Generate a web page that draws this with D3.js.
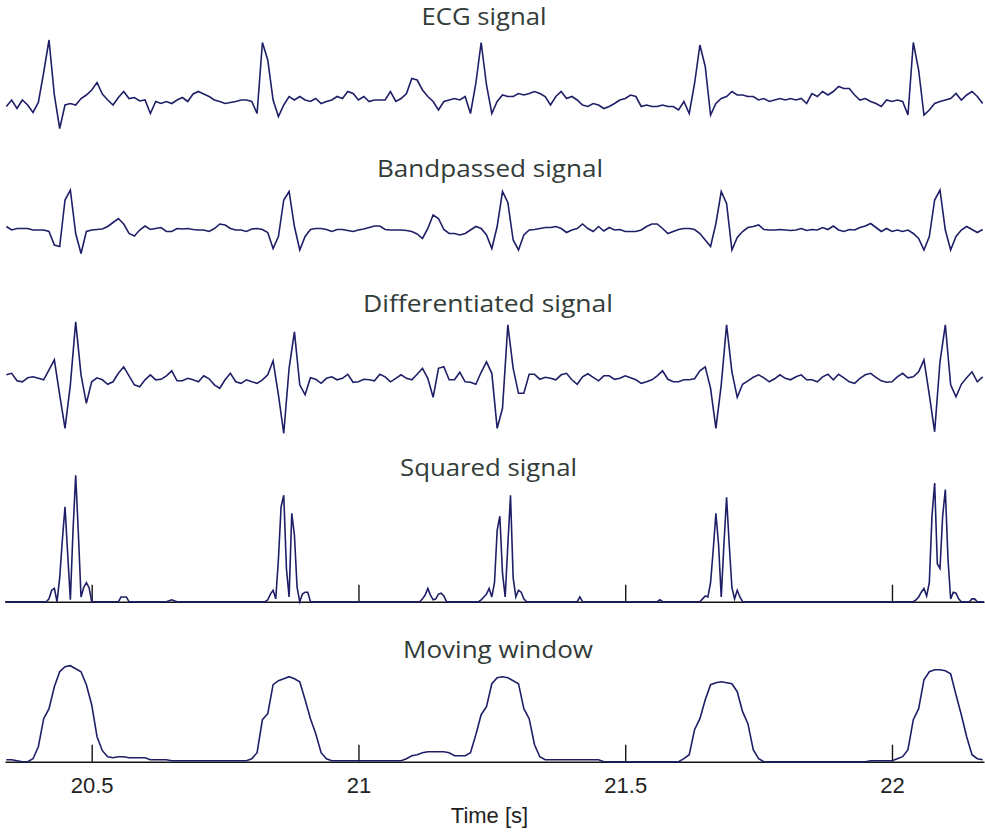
<!DOCTYPE html>
<html>
<head>
<meta charset="utf-8">
<script src="https://cdn.jsdelivr.net/npm/d3@7"></script>
<style>
  html, body { margin: 0; padding: 0; background: #ffffff; }
  svg { display: block; }
</style>
</head>
<body>
<svg id="chart" width="985" height="834"></svg>
<script>
// ---------------- DATA ----------------
// Uniformly sampled series: sample i is at time T0 + i*DT seconds
const T0 = 20.34;
const DT = 0.01;
const timeDomain = [20.3375, 22.1725];
const tickValues = [20.5, 21, 21.5, 22];
const xAxisLabel = "Time [s]";
const panelTitles = ["ECG signal", "Bandpassed signal", "Differentiated signal", "Squared signal", "Moving window"];

const ecgSignal = [
  -0.13,0,-0.17,0,-0.1,-0.25,-0.05,0.55,1.2,0.1,
  -0.57,-0.1,-0.07,-0.1,0.03,0.1,0.2,0.35,0.12,0,
  -0.1,0.05,0.17,0.03,0.05,-0.02,0,-0.27,-0.03,-0.07,
  -0.03,-0.07,0,0.05,-0.03,0.12,0.17,0.12,0.07,0,
  -0.03,-0.07,-0.05,-0.03,0,0,-0.03,-0.27,1.15,0.8,
  0,-0.33,-0.1,0.07,0,0.07,0,-0.03,0.03,-0.07,
  -0.03,0,0.07,0.03,0.17,0.13,0,0.07,-0.03,0,
  0,0,0.17,-0.03,0.03,0.13,0.43,0.4,0.2,0.07,
  -0.03,-0.2,-0.03,0,0.03,0,0.07,-0.27,0.33,1.15,
  0.3,-0.27,-0.03,0.1,0.07,0.07,0.13,0.1,0.13,0.17,
  0.13,0.07,-0.1,0.07,0.17,0.03,0.07,0,-0.1,-0.13,
  -0.07,-0.1,-0.17,-0.13,-0.07,0,0.03,0.1,0.07,-0.13,
  -0.1,-0.13,-0.13,-0.1,-0.13,-0.13,-0.2,-0.03,-0.27,0.33,
  1.1,0.67,-0.3,-0.07,0.03,0.07,0.17,0.1,0.1,0.07,
  0.07,0,0.03,-0.03,0,0.03,0,0.03,0,0.03,
  -0.07,0.13,0.07,0.17,0.1,0.17,0.27,0.23,0.23,0.1,
  0,0.03,-0.03,-0.07,-0.13,0,-0.03,0,-0.03,-0.3,
  1.15,0.6,-0.3,-0.2,-0.07,-0.03,0,0.03,0.13,0,
  0.1,0.17,0.07,-0.07
];

const bandpassedSignal = [
  0.07,0,0.03,0.03,0.03,0,0,0,-0.03,-0.3,
  -0.33,0.6,0.8,-0.07,-0.47,-0.03,0,0.01,0.02,0.07,
  0.15,0.23,0.12,-0.07,-0.12,0,0.08,0.01,0.03,0.05,
  -0.03,-0.03,0.03,0.02,0.03,0.01,0,0,-0.03,0.03,
  0.12,0.1,0.03,0,0,-0.03,0.02,0.03,0.01,-0.05,
  -0.37,-0.13,0.6,0.77,0.07,-0.4,-0.13,0.01,0.03,0.03,
  0.01,-0.03,0.01,0.01,-0.01,-0.03,0,0.02,0.05,0.08,
  0.08,0.01,0,0,0,-0.01,-0.03,-0.08,-0.17,0.03,
  0.3,0.23,0.01,-0.07,-0.07,-0.1,-0.07,0,0.07,0.03,
  -0.1,-0.37,0.07,0.77,0.55,-0.2,-0.4,-0.1,0,0.01,
  0.03,0.05,0.05,0.07,0.03,-0.05,0,0.03,0.12,0.03,
  -0.03,0.07,-0.02,0.05,0,0.01,-0.03,-0.03,-0.03,0,
  0.07,0.12,0.12,0.03,-0.07,-0.03,0.01,0.03,0.03,0.01,
  -0.07,-0.2,-0.33,0.13,0.77,0.53,-0.4,-0.15,-0.03,0.05,
  0.07,0.1,0.01,0,0,0.01,0,-0.01,0,0.03,
  -0.01,0.01,0,0.05,0.01,0.08,0,-0.03,0.01,0,
  0.05,0.08,0.13,0.05,-0.03,0.03,-0.03,0,-0.03,0,
  -0.07,-0.17,-0.4,-0.13,0.6,0.8,0,-0.4,-0.13,0,
  0.07,0.01,-0.05,0.01
];

const differentiatedSignal = [
  0.07,0.1,-0.05,-0.07,0.01,0.03,0,-0.03,0.17,0.37,
  -0.33,-1.0,-0.13,1.13,0.07,-0.5,-0.07,0.01,-0.03,-0.12,
  -0.07,0.1,0.23,0.05,-0.13,-0.17,-0.03,0.07,-0.03,-0.02,
  0.05,0.15,-0.05,-0.05,0,-0.03,-0.07,0.05,-0.01,-0.13,
  -0.2,-0.03,0.1,-0.07,-0.1,-0.03,-0.07,-0.1,-0.03,0.07,
  0.35,-0.33,-1.1,0.2,0.93,-0.13,-0.33,0.01,-0.02,-0.1,
  0,0.03,-0.03,0,0.08,-0.08,-0.07,-0.02,-0.03,-0.05,
  0.08,0.03,-0.07,0,0.07,0,-0.03,0.08,0.2,0,
  -0.38,0.2,0.23,-0.03,-0.03,0.12,-0.07,-0.08,-0.12,0.12,
  0.33,0.1,-1.0,-0.6,1.07,0.2,-0.3,-0.3,0.08,0.08,
  -0.02,0.02,0,-0.03,0.07,0.1,-0.03,-0.12,0.03,0.09,
  0.02,-0.05,0.05,0.05,-0.02,0,0.05,0.01,-0.03,-0.1,
  -0.07,-0.03,0.05,0.15,-0.02,-0.07,-0.07,-0.03,-0.03,-0.01,
  0.15,0.23,-0.2,-1.0,-0.13,1.07,0.13,-0.38,-0.12,-0.05,
  0.02,0.07,0.01,-0.07,-0.01,0.07,0,-0.03,0.03,0.07,
  -0.03,-0.03,-0.07,0.03,0.08,-0.03,0.08,0.01,-0.07,-0.1,
  0,0.07,0.1,0.02,-0.05,-0.08,-0.07,0.03,0.1,0.01,
  0.03,0.13,0.37,-0.33,-1.07,0.33,1.07,-0.13,-0.37,-0.12,
  0.01,0.13,-0.07,0.03
];

// Squared signal: [time (s), value] vertices
const squaredSignal = [
  [20.3375,0],[20.415,0],[20.42,0.03],[20.425,0.12],[20.43,0.14],[20.435,0],[20.44,0.25],[20.445,0.65],
  [20.45,1.0],[20.455,0.5],[20.46,0.02],[20.465,0.75],[20.47,1.33],[20.475,0.72],[20.48,0.05],[20.485,0.15],
  [20.49,0.2],[20.495,0.15],[20.5,0],
  [20.55,0],[20.555,0.05],[20.565,0.05],[20.57,0],
  [20.64,0],[20.65,0.02],[20.66,0],
  [20.825,0],[20.83,0.02],[20.835,0.08],[20.84,0.12],[20.845,0.03],[20.85,0.45],[20.855,1.0],[20.86,1.12],
  [20.865,0.35],[20.87,0.05],[20.875,0.93],[20.88,0.7],[20.885,0.15],[20.89,0],[20.895,0.08],[20.9,0.1],
  [20.905,0.1],[20.91,0],
  [21.115,0],[21.12,0.03],[21.125,0.07],[21.13,0.14],[21.135,0.07],[21.14,0.02],[21.145,0.03],[21.15,0.08],
  [21.155,0.09],[21.16,0.06],[21.165,0],
  [21.225,0],[21.23,0.02],[21.235,0.05],[21.24,0.08],[21.245,0.14],[21.25,0.05],[21.255,0.2],[21.26,0.75],
  [21.265,0.9],[21.27,0.3],[21.275,0.05],[21.28,0.6],[21.285,1.12],[21.29,0.25],[21.295,0.05],[21.3,0.12],
  [21.305,0.1],[21.31,0.03],[21.315,0],
  [21.41,0],[21.415,0.05],[21.42,0],
  [21.56,0],[21.565,0.02],[21.57,0],
  [21.64,0],[21.645,0.03],[21.65,0.06],[21.655,0.05],[21.66,0.2],[21.665,0.55],[21.67,0.93],[21.675,0.6],
  [21.68,0.05],[21.685,0.6],[21.69,1.1],[21.695,0.6],[21.7,0.15],[21.705,0.03],[21.71,0.12],[21.715,0.05],
  [21.72,0],
  [22.04,0],[22.045,0.02],[22.05,0.05],[22.055,0.1],[22.06,0.14],[22.065,0.06],[22.07,0.2],[22.075,0.9],
  [22.08,1.25],[22.085,0.4],[22.09,0.35],[22.095,0.9],[22.1,1.18],[22.105,0.45],[22.11,0.03],[22.115,0.1],
  [22.12,0.09],[22.125,0.03],[22.13,0],[22.145,0],[22.15,0.03],[22.155,0.03],[22.16,0],[22.1725,0]
];

const movingWindowSignal = [
  0.02,0.02,0.01,0,0,0.03,0.15,0.43,0.53,0.75,
  0.9,0.95,0.96,0.93,0.9,0.77,0.57,0.25,0.11,0.05,
  0.04,0.05,0.05,0.04,0.04,0.04,0.04,0.02,0.02,0.02,
  0.02,0.01,0.01,0.01,0.01,0.01,0.01,0.01,0.01,0.01,
  0.01,0.01,0.01,0.01,0.01,0.01,0.03,0.09,0.42,0.48,
  0.77,0.81,0.83,0.85,0.83,0.8,0.62,0.43,0.28,0.09,
  0.03,0.01,0.01,0.01,0.01,0.01,0.01,0.01,0.01,0.01,
  0.01,0.01,0.01,0.01,0.01,0.03,0.06,0.07,0.09,0.1,
  0.1,0.1,0.1,0.09,0.06,0.06,0.06,0.09,0.27,0.47,
  0.55,0.78,0.84,0.85,0.84,0.81,0.78,0.53,0.43,0.17,
  0.05,0.02,0.02,0.02,0.02,0.02,0.02,0.02,0.02,0.02,
  0.02,0.02,0,0,0,0,0,0,0,0,
  0,0,0,0,0,0,0,0.03,0.07,0.32,
  0.43,0.62,0.77,0.79,0.8,0.79,0.78,0.7,0.5,0.38,
  0.12,0.03,0,0,0,0,0,0,0,0,
  0,0,0,0,0,0,0,0,0,0,
  0,0,0.01,0.01,0.01,0.01,0.01,0.03,0.05,0.12,
  0.42,0.53,0.82,0.9,0.92,0.92,0.91,0.88,0.67,0.47,
  0.25,0.07,0.03,0.02
];

// ---------------- DRAWING ----------------
const W = 985, H = 834;
const svg = d3.select("#chart");
svg.append("rect").attr("width", W).attr("height", H).attr("fill", "#ffffff");

const x = d3.scaleLinear().domain(timeDomain).range([5, 984]);

const LINE_COLOR = "#1f1f68";
const TITLE_COLOR = "#323c38";

svg.append("defs").append("clipPath").attr("id", "plotclip")
  .append("rect").attr("x", 5).attr("y", 0).attr("width", 980).attr("height", H);

const panels = [
  { title: panelTitles[0], data: ecgSignal, y: d3.scaleLinear().domain([-0.8, 1.4]).range([140, 30]),
    tx: 484, ty: 25, tw: 125 },
  { title: panelTitles[1], data: bandpassedSignal, y: d3.scaleLinear().domain([-1, 1]).range([280, 180]),
    tx: 490, ty: 177, tw: 226 },
  { title: panelTitles[2], data: differentiatedSignal, y: d3.scaleLinear().domain([-1.4, 1.4]).range([448.3, 308.3]),
    tx: 488, ty: 312, tw: 250 },
  { title: panelTitles[3], data: squaredSignal, pairs: true, y: d3.scaleLinear().domain([0, 1.4]).range([601.7, 468.7]),
    tx: 488.5, ty: 476, tw: 177, axis: true, labels: false },
  { title: panelTitles[4], data: movingWindowSignal, y: d3.scaleLinear().domain([0, 1]).range([761.7, 661.7]),
    tx: 498, ty: 658, tw: 190, axis: true, labels: true }
];

panels.forEach(p => {
  const g = svg.append("g");

  // title
  g.append("text")
    .attr("x", p.tx).attr("y", p.ty)
    .attr("text-anchor", "middle")
    .attr("font-family", "'Open Sans', 'Noto Sans', sans-serif")
    .attr("font-size", 24)
    .attr("fill", TITLE_COLOR)
    .attr("textLength", p.tw)
    .attr("lengthAdjust", "spacingAndGlyphs")
    .text(p.title);

  // axis (only on the lower two panels)
  if (p.axis) {
    const base = p.y(0);
    const ax = d3.axisBottom(x)
      .tickValues(tickValues)
      .tickSizeInner(-17)
      .tickSizeOuter(0)
      .tickPadding(16)
      .tickFormat(p.labels ? d3.format("") : () => "");
    const ag = g.append("g").attr("transform", `translate(0,${base})`).call(ax);
    ag.select(".domain").attr("stroke", "#141414").attr("stroke-width", 1.6);
    ag.selectAll(".tick line").attr("stroke", "#141414").attr("stroke-width", 1.4);
    ag.selectAll(".tick text")
      .attr("font-family", "'Liberation Sans', Arial, sans-serif")
      .attr("font-size", 22)
      .attr("fill", "#222222");
  }

  // signal line
  const line = p.pairs
    ? d3.line().x(d => x(d[0])).y(d => p.y(d[1]))
    : d3.line().x((d, i) => x(T0 + i * DT)).y(d => p.y(d));

  g.append("path")
    .datum(p.data)
    .attr("clip-path", "url(#plotclip)")
    .attr("fill", "none")
    .attr("stroke", LINE_COLOR)
    .attr("stroke-width", 1.6)
    .attr("stroke-linejoin", "miter")
    .attr("d", line);
});

// x axis label
svg.append("text")
  .attr("x", 489.5).attr("y", 823)
  .attr("text-anchor", "middle")
  .attr("font-family", "'Liberation Sans', Arial, sans-serif")
  .attr("font-size", 22)
  .attr("fill", "#222222")
  .text(xAxisLabel);
</script>
</body>
</html>
